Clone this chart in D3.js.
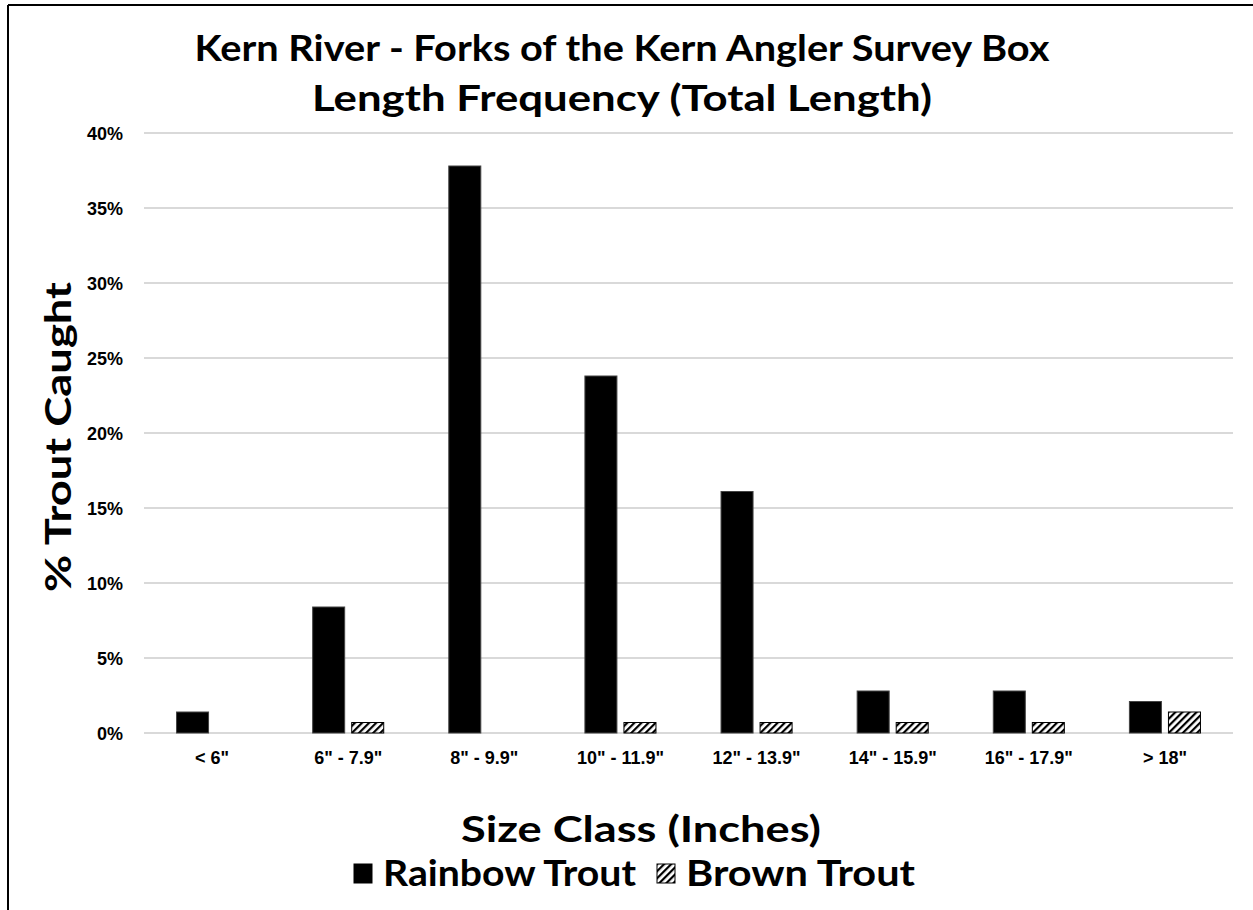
<!DOCTYPE html>
<html>
<head>
<meta charset="utf-8">
<script src="https://cdn.jsdelivr.net/npm/d3@7"></script>
<style>
  body { margin: 0; background: #fff; }
  svg text { font-family: "Liberation Sans", Arial, sans-serif; font-weight: bold; fill: #000; }
  .title { font-family: Lato, "DejaVu Sans", sans-serif; font-size: 36px; }
  .big { font-family: Lato, "DejaVu Sans", sans-serif; font-size: 37px; }
  .grid line { stroke: #d9d9d9; stroke-width: 2; }
</style>
</head>
<body>
<div id="chart"></div>
<script>
const categories = ['< 6"', '6" - 7.9"', '8" - 9.9"', '10" - 11.9"', '12" - 13.9"', '14" - 15.9"', '16" - 17.9"', '> 18"'];
const seriesNames = ["Rainbow Trout", "Brown Trout"];
const rainbowTrout = [1.4, 8.4, 37.8, 23.8, 16.1, 2.8, 2.8, 2.1];
const brownTrout = [0, 0.7, 0, 0.7, 0.7, 0.7, 0.7, 1.4];
const yTicks = [0, 5, 10, 15, 20, 25, 30, 35, 40];
const titleLines = ["Kern River - Forks of the Kern Angler Survey Box", "Length Frequency (Total Length)"];

const svgWidth = 1253, svgHeight = 910;
const plot = {left: 144, right: 1233, top: 133, bottom: 733};

const svg = d3.select("#chart").append("svg")
    .attr("width", svgWidth)
    .attr("height", svgHeight);

// hatch pattern for brown trout
const defs = svg.append("defs");
const pat = defs.append("pattern")
    .attr("id", "hatch")
    .attr("patternUnits", "userSpaceOnUse")
    .attr("width", 5).attr("height", 5)
    .attr("patternTransform", "rotate(45)");
pat.append("rect").attr("width", 5).attr("height", 5).attr("fill", "#fff");
pat.append("rect").attr("width", 2.2).attr("height", 5).attr("fill", "#000");

// frame (only left and top visible in the source)
svg.append("line").attr("x1", 8).attr("x2", 8).attr("y1", 5).attr("y2", svgHeight).attr("stroke", "#000").attr("stroke-width", 2);
svg.append("line").attr("x1", 8).attr("x2", svgWidth).attr("y1", 5).attr("y2", 5).attr("stroke", "#000").attr("stroke-width", 2);

const x0 = d3.scaleBand()
    .domain(categories)
    .range([plot.left, plot.right])
    .paddingInner(0.478)
    .paddingOuter(0.239);

const x1 = d3.scaleBand()
    .domain(seriesNames)
    .range([0, x0.bandwidth()])
    .paddingInner(0.18);

const y = d3.scaleLinear()
    .domain([0, 40])
    .range([plot.bottom, plot.top]);

// gridlines
svg.append("g")
    .attr("class", "grid")
    .selectAll("line")
    .data(yTicks)
    .enter().append("line")
    .attr("x1", plot.left)
    .attr("x2", plot.right)
    .attr("y1", d => y(d))
    .attr("y2", d => y(d));

// y axis labels
const yAxis = d3.axisLeft(y).tickValues(yTicks).tickFormat(d => d + "%").tickSize(0).tickPadding(0);
svg.append("g")
    .attr("transform", `translate(123,0)`)
    .call(yAxis)
    .call(g => g.select(".domain").remove())
    .call(g => g.selectAll("text").attr("font-size", 18).attr("font-family", null).attr("dy", "0.35em"));

// x axis labels
const xAxis = d3.axisBottom(x0).tickSize(0).tickPadding(0);
svg.append("g")
    .attr("transform", `translate(0,751)`)
    .call(xAxis)
    .call(g => g.select(".domain").remove())
    .call(g => g.selectAll("text").attr("font-size", 18).attr("font-family", null).attr("dy", "0.71em"));

const rows = categories.map((c, i) => ({cat: c, values: [rainbowTrout[i], brownTrout[i]]}));

const groups = svg.selectAll(".group")
    .data(rows)
    .enter().append("g")
    .attr("class", "group")
    .attr("transform", d => `translate(${x0(d.cat)},0)`);

groups.selectAll("rect")
    .data(d => d.values.map((v, i) => ({key: seriesNames[i], value: v})).filter(d => d.value > 0))
    .enter().append("rect")
    .attr("x", d => x1(d.key))
    .attr("width", x1.bandwidth())
    .attr("y", d => y(d.value))
    .attr("height", d => y(0) - y(d.value))
    .attr("fill", d => d.key === "Rainbow Trout" ? "#000" : "url(#hatch)")
    .attr("stroke", d => d.key === "Rainbow Trout" ? "#444" : "#000")
    .attr("stroke-width", 1);

// titles
const titleWidths = [855, 620];
svg.selectAll(".title")
    .data(titleLines)
    .enter().append("text")
    .attr("class", "title")
    .attr("x", 622)
    .attr("y", (d, i) => 61 + i * 50)
    .attr("text-anchor", "middle")
    .attr("textLength", (d, i) => titleWidths[i])
    .attr("lengthAdjust", "spacingAndGlyphs")
    .text(d => d);

// axis titles
svg.append("text")
    .attr("class", "big")
    .attr("x", 641)
    .attr("y", 842)
    .attr("text-anchor", "middle")
    .attr("textLength", 360)
    .attr("lengthAdjust", "spacingAndGlyphs")
    .text("Size Class (Inches)");

svg.append("text")
    .attr("class", "big")
    .attr("transform", "translate(71,437) rotate(-90)")
    .attr("text-anchor", "middle")
    .attr("textLength", 310)
    .attr("lengthAdjust", "spacingAndGlyphs")
    .text("% Trout Caught");

// legend
const legendItems = [
    {name: seriesNames[0], fill: "#000", x: 354, w: 253},
    {name: seriesNames[1], fill: "url(#hatch)", x: 657, w: 229}
];
const legend = svg.selectAll(".legend")
    .data(legendItems)
    .enter().append("g")
    .attr("class", "legend")
    .attr("transform", d => `translate(${d.x},0)`);
legend.append("rect")
    .attr("y", 864)
    .attr("width", 18).attr("height", 19)
    .attr("fill", d => d.fill)
    .attr("stroke", "#000");
legend.append("text")
    .attr("class", "big")
    .attr("x", 29)
    .attr("y", 886)
    .attr("textLength", d => d.w)
    .attr("lengthAdjust", "spacingAndGlyphs")
    .text(d => d.name);
</script>
</body>
</html>
